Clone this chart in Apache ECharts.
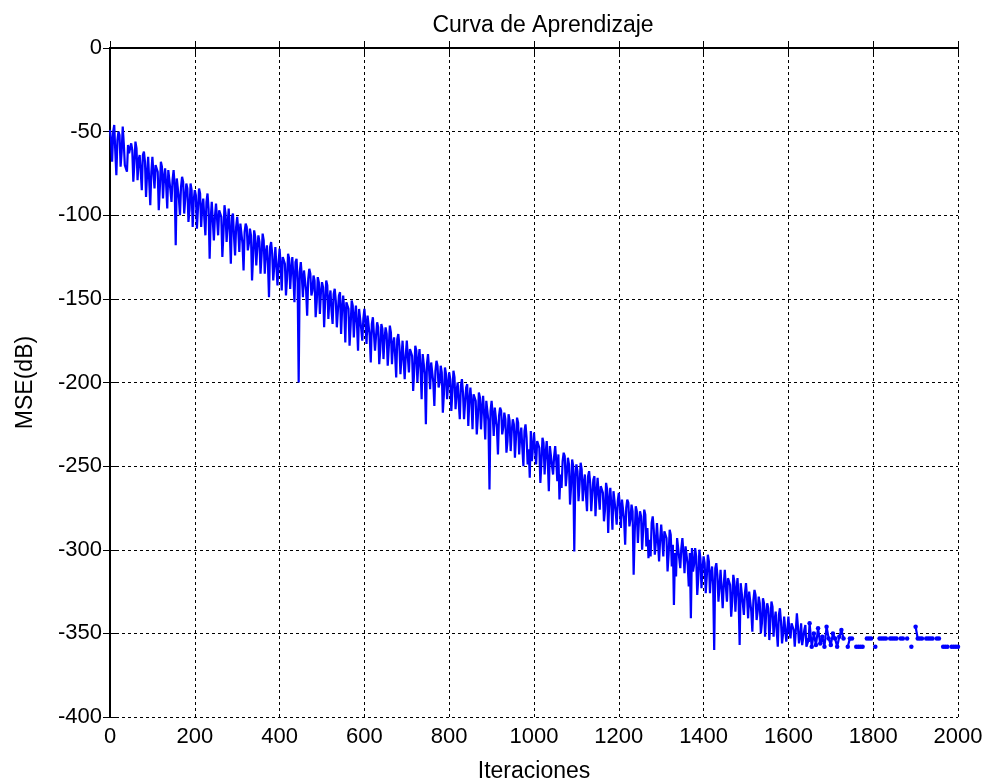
<!DOCTYPE html>
<html>
<head>
<meta charset="utf-8">
<script src="https://cdn.jsdelivr.net/npm/echarts@6/dist/echarts.min.js"></script>
<style>html,body{margin:0;padding:0;background:#fff}#c{width:991px;height:784px}</style>
</head>
<body>
<div id="c"></div>
<script>
// Iteration step between stored samples
const STEP = 5;
// MSE (dB), iterations 0..1645 every 5
const mseMain = [
-49,-68,-46,-76,-50,-71,-47,-70,-74,-63,
-57,-80,-56,-79,-64,-85,-62,-89,-65,-94,
-65,-84,-70,-97,-68,-90,-72,-96,-73,-92,
-73,-118,-77,-100,-77,-99,-81,-104,-81,-107,
-85,-108,-84,-107,-90,-112,-87,-126,-92,-115,
-93,-112,-97,-125,-94,-116,-96,-129,-99,-124,
-101,-122,-105,-133,-105,-121,-108,-139,-109,-130,
-112,-135,-111,-135,-118,-149,-116,-139,-119,-142,
-120,-145,-124,-148,-123,-144,-125,-152,-126,-200,
-128,-149,-132,-160,-132,-148,-136,-161,-137,-159,
-140,-167,-139,-162,-145,-165,-144,-167,-148,-171,
-148,-176,-152,-178,-151,-173,-154,-181,-156,-175,
-156,-177,-160,-188,-161,-181,-164,-189,-165,-186,
-167,-190,-166,-189,-173,-197,-171,-195,-175,-198,
-175,-194,-179,-205,-178,-200,-180,-210,-182,-225,
-183,-204,-187,-214,-187,-203,-190,-218,-191,-210,
-194,-217,-193,-216,-200,-222,-198,-222,-203,-226,
-203,-228,-207,-231,-206,-228,-208,-234,-210,-264,
-211,-232,-215,-243,-215,-231,-218,-242,-219,-241,
-222,-245,-221,-243,-227,-250,-225,-249,-257,-247,
-230,-249,-234,-260,-233,-255,-235,-265,-237,-255,
-238,-259,-270,-263,-242,-262,-245,-273,-246,-301,
-249,-271,-248,-271,-255,-277,-253,-277,-258,-280,
-257,-276,-261,-283,-260,-290,-263,-288,-265,-285,
-266,-287,-270,-297,-270,-286,-273,-315,-274,-296,
-277,-300,-276,-298,-305,-304,-280,-303,-284,-307,
-285,-304,-289,-313,-288,-310,-333,-316,-293,-311,
-293,-314,-297,-322,-341,-313,-299,-327,-300,-323,
-304,-326,-303,-326,-310,-360,-308,-331,-312,-335,
-312,-331,-316,-340,-315,-337,-317,-357,-319,-339,
-320,-341,-324,-349,-324,-342,-328,-350,-329,-352,
-332,-354,-331,-352,-337,-358,-335,-356,-340,-355,
-340,-353,-343,-358,-338,-356,-344,-358,-345,-357
];
// MSE (dB) in between, iterations 2.5..1647.5 every 5
const mseMid = [
-55,-50,-62,-55,-52,-62,-57,-70,-58,-64,
-61,-69,-60,-67,-74,-64,-68,-75,-64,-74,
-75,-70,-74,-84,-71,-77,-82,-73,-85,-79,
-82,-78,-90,-83,-80,-90,-84,-97,-85,-91,
-88,-96,-87,-95,-102,-92,-96,-102,-91,-101,
-102,-97,-101,-111,-99,-105,-110,-101,-113,-107,
-109,-105,-117,-110,-107,-117,-112,-125,-113,-119,
-116,-124,-115,-122,-129,-119,-123,-130,-119,-129,
-130,-125,-129,-138,-126,-132,-137,-128,-140,-134,
-137,-133,-145,-138,-135,-145,-139,-152,-140,-146,
-143,-151,-142,-150,-157,-147,-151,-157,-146,-156,
-157,-152,-156,-166,-154,-160,-165,-156,-168,-162,
-164,-160,-172,-165,-162,-172,-167,-180,-168,-174,
-171,-179,-170,-177,-184,-174,-178,-185,-174,-184,
-185,-180,-184,-193,-181,-187,-192,-183,-195,-189,
-192,-188,-200,-193,-190,-200,-194,-207,-195,-201,
-198,-206,-197,-205,-212,-202,-206,-212,-201,-211,
-212,-207,-211,-221,-209,-215,-220,-211,-223,-217,
-219,-215,-227,-220,-217,-227,-222,-235,-223,-229,
-225,-233,-224,-232,-239,-229,-233,-240,-229,-239,
-240,-235,-239,-248,-236,-242,-247,-238,-250,-244,
-247,-243,-255,-247,-244,-254,-249,-262,-250,-256,
-253,-261,-252,-260,-267,-256,-260,-267,-256,-266,
-267,-262,-266,-276,-264,-270,-274,-265,-277,-271,
-274,-270,-282,-275,-272,-282,-277,-290,-277,-283,
-280,-288,-279,-287,-294,-284,-288,-295,-284,-294,
-294,-289,-293,-303,-291,-297,-302,-293,-305,-299,
-302,-298,-309,-302,-299,-309,-304,-317,-305,-311,
-308,-316,-307,-314,-321,-311,-315,-322,-311,-321,
-322,-317,-321,-331,-319,-324,-329,-320,-332,-326,
-329,-325,-337,-330,-327,-337,-332,-344,-332,-338,
-335,-343,-334,-342,-349,-339,-343,-350,-339,-348,
-349,-344,-348,-358,-346,-352,-357,-348,-358,-354
];
// MSE (dB) iterations 1650..2000 every 5; null = nothing drawn (gap)
const mseTail = [
-344,-358,-350,-357,-347,-356,-352,-358,-346,-353,
-357,-350,-353,-358,-352,-348,-353,null,-358,-353,
-353,null,-358,-358,-358,-358,null,-353,-353,-353,
null,-358,null,-353,-353,-353,-353,null,-353,-353,
-353,-353,null,-353,-353,null,-353,null,-358,null,
-346,-353,-353,-353,null,-353,-353,-353,-353,null,
-353,-353,null,-358,-358,-358,null,-358,-358,-358,
-358
];
const TAIL_START = 1650;
const xTicks = [0,200,400,600,800,1000,1200,1400,1600,1800,2000];
const yTicks = [0,-50,-100,-150,-200,-250,-300,-350,-400];

const mainData = [];
mseMain.forEach((v, i) => {
  mainData.push([i * STEP, v]);
  mainData.push([i * STEP + STEP / 2, mseMid[i]]);
});
const lastMain = mainData[mainData.length - 1];
const tailData = [lastMain].concat(mseTail.map((v, i) => [TAIL_START + i * STEP, v]));

const FONT = 'Liberation Sans, Arial, sans-serif';
const chart = echarts.init(document.getElementById('c'), null, {renderer: 'canvas'});
const gridLine = {show: true, lineStyle: {color: '#000', width: 1, type: [3, 3]}};
const axisLine = {show: true, lineStyle: {color: '#000', width: 2}};
const tick = {show: true, inside: true, length: 7, lineStyle: {color: '#000', width: 1}};
chart.setOption({
  animation: false,
  backgroundColor: '#fff',
  title: {
    text: 'Curva de Aprendizaje', left: 538, top: 9, textAlign: 'center',
    textStyle: {fontFamily: FONT, fontSize: 23, fontWeight: 'normal', color: '#000'}
  },
  grid: {left: 110, right: 33, top: 48, bottom: 67, containLabel: false, outerBoundsMode: 'none'},
  xAxis: [{
    type: 'value', min: 0, max: 2000, interval: 200,
    name: 'Iteraciones', nameLocation: 'middle', nameGap: 43,
    nameTextStyle: {fontFamily: FONT, fontSize: 23, color: '#000'},
    axisLine: axisLine, axisTick: tick,
    axisLabel: {fontFamily: FONT, fontSize: 22, color: '#000', margin: 9,
      formatter: v => xTicks.includes(v) ? String(v) : ''},
    splitLine: gridLine
  }, {
    type: 'value', min: 0, max: 2000, interval: 200, position: 'top',
    axisLine: axisLine, axisTick: tick,
    axisLabel: {show: false}, splitLine: {show: false}
  }],
  yAxis: [{
    type: 'value', min: -400, max: 0, interval: 50,
    name: 'MSE(dB)', nameLocation: 'middle', nameGap: 73, nameRotate: 90,
    nameTextStyle: {fontFamily: FONT, fontSize: 23, color: '#000'},
    axisLine: axisLine, axisTick: tick,
    axisLabel: {fontFamily: FONT, fontSize: 22, color: '#000', margin: 8,
      formatter: v => yTicks.includes(v) ? String(v) : ''},
    splitLine: gridLine
  }, {
    type: 'value', min: -400, max: 0, interval: 50, position: 'right',
    axisLine: axisLine, axisTick: tick,
    axisLabel: {show: false}, splitLine: {show: false}
  }],
  series: [{
    type: 'line', data: mainData, showSymbol: false,
    lineStyle: {color: '#0000ff', width: 2.2}, z: 3
  }, {
    type: 'line', data: tailData, connectNulls: false,
    showSymbol: true, showAllSymbol: true, symbol: 'circle', symbolSize: 4.5,
    itemStyle: {color: '#0000ff', borderWidth: 0},
    lineStyle: {color: '#0000ff', width: 2.2}, z: 3
  }]
});
</script>
</body>
</html>
